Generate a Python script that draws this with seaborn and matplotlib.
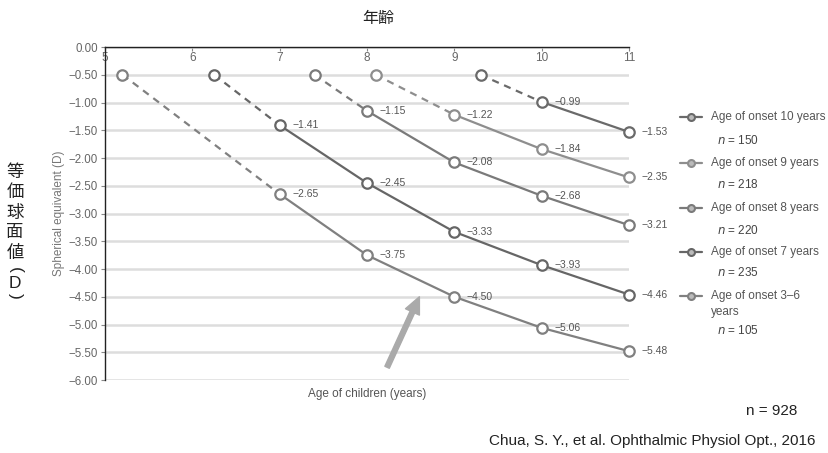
import matplotlib.pyplot as plt
import pandas as pd
import seaborn as sns
from matplotlib.lines import Line2D

# ── data ──────────────────────────────────────
ONSET_LABELS = [
    "Age of onset 10 years",
    "Age of onset 9 years",
    "Age of onset 8 years",
    "Age of onset 7 years",
    "Age of onset 3–6\nyears",
]
N_LABELS = ["150", "218", "220", "235", "105"]

# dashed lead-in: starting point (age, SE) before first follow-up visit
START_AGE = [9.3, 8.1, 7.4, 6.25, 5.2]
START_SE = [-0.50, -0.50, -0.50, -0.50, -0.50]

AGES_10 = [10, 11]
SE_10 = [-0.99, -1.53]
AGES_9 = [9, 10, 11]
SE_9 = [-1.22, -1.84, -2.35]
AGES_8 = [8, 9, 10, 11]
SE_8 = [-1.15, -2.08, -2.68, -3.21]
AGES_7 = [7, 8, 9, 10, 11]
SE_7 = [-1.41, -2.45, -3.33, -3.93, -4.46]
AGES_36 = [7, 8, 9, 10, 11]
SE_36 = [-2.65, -3.75, -4.50, -5.06, -5.48]

SERIES_AGES = [AGES_10, AGES_9, AGES_8, AGES_7, AGES_36]
SERIES_SE = [SE_10, SE_9, SE_8, SE_7, SE_36]

Y_TICKS = [0.0, -0.5, -1.0, -1.5, -2.0, -2.5, -3.0, -3.5, -4.0, -4.5, -5.0, -5.5, -6.0]
X_TICKS = [5, 6, 7, 8, 9, 10, 11]

COLORS = ["#6a6a6a", "#8e8e8e", "#7a7a7a", "#666666", "#808080"]


def fmt(v):
    return f"{v:.2f}".replace("-", "\u2212")


sns.set_theme(style="white")
plt.rcParams["font.family"] = ["Liberation Sans", "Noto Sans CJK JP", "DejaVu Sans"]

fig = plt.figure(figsize=(8.29, 4.53), dpi=100)
ax = fig.add_axes([0.1267, 0.1611, 0.632, 0.7351])

for i, (ages, se) in enumerate(zip(SERIES_AGES, SERIES_SE)):
    c = COLORS[i]
    dashed = pd.DataFrame({"age": [START_AGE[i], ages[0]], "se": [START_SE[i], se[0]]})
    solid = pd.DataFrame({"age": ages, "se": se})
    sns.lineplot(data=dashed, x="age", y="se", ax=ax, color=c, lw=1.6,
                 linestyle=(0, (3.2, 2.6)), clip_on=False)
    sns.lineplot(data=solid, x="age", y="se", ax=ax, color=c, lw=1.6, clip_on=False)
    # open circle markers
    ax.plot([START_AGE[i]] + ages, [START_SE[i]] + se, ls="none", marker="o",
            ms=7.5, mfc="white", mec=c, mew=1.6, clip_on=False, zorder=4)
    for a, v in zip(ages, se):
        ax.annotate(fmt(v), (a, v), xytext=(9, 0), textcoords="offset points",
                    va="center", ha="left", fontsize=7.5, color="#555555")

ax.set_xlim(5, 11)
ax.set_ylim(-6, 0)
ax.set_yticks(Y_TICKS)
ax.set_yticklabels([fmt(v) for v in Y_TICKS], fontsize=8.3, color="#666666")
ax.set_xticks(X_TICKS)
ax.set_xticklabels([str(v) for v in X_TICKS], fontsize=8.5, color="#666666")
ax.xaxis.set_ticks_position("top")
ax.tick_params(axis="x", direction="in", length=3, width=0.8, color="#888888", pad=-12)
ax.tick_params(axis="y", direction="out", length=3, width=0.8, color="#888888", pad=2, left=True)
ax.yaxis.grid(True, color="#dddddd", lw=1.8)
ax.set_axisbelow(True)
for s in ["right", "bottom"]:
    ax.spines[s].set_visible(False)
for s in ["top", "left"]:
    ax.spines[s].set_color("#222222")
    ax.spines[s].set_linewidth(1.0)

ax.xaxis.set_label_position("bottom")
ax.set_xlabel("Age of children (years)", fontsize=8.5, color="#555555", labelpad=6)
ax.set_ylabel("Spherical equivalent (D)", fontsize=8.5, color="#777777", labelpad=3)

# arrow
ax.annotate("", xy=(8.6, -4.5), xytext=(8.23, -5.77),
            arrowprops=dict(facecolor="#aaaaaa", edgecolor="#aaaaaa",
                            width=3.5, headwidth=11, headlength=12))

# legend drawn by hand
leg_rows = [(117, 140), (163, 184), (208, 230), (252, 272), (296, 331)]
for i, (ty, ny) in enumerate(leg_rows):
    yf = 1 - ty / 453
    fig.add_artist(Line2D([680 / 829, 702 / 829], [yf, yf], color=COLORS[i], lw=1.6))
    fig.add_artist(Line2D([691 / 829], [yf], ls="none", marker="o", ms=5,
                          mfc="#bbbbbb", mec=COLORS[i], mew=1.5))
    lines = ONSET_LABELS[i].split("\n")
    fig.text(711 / 829, yf, lines[0], fontsize=8.5, color="#555555", va="center")
    if len(lines) > 1:
        fig.text(711 / 829, 1 - 312 / 453, lines[1], fontsize=8.5, color="#555555", va="center")
    fig.text(717 / 829, 1 - ny / 453, f"$\\it{{n}}$ = {N_LABELS[i]}", fontsize=8.5,
             color="#444444", va="center")

# Japanese overlay texts (vertical writing)
fig.text(378 / 829, 1 - 18 / 453, "年齢", fontsize=11.5, ha="center", va="center", color="#222222")
for ch, yy in zip(["等", "価", "球", "面", "値"], [172, 192, 213, 233, 253]):
    fig.text(15 / 829, 1 - yy / 453, ch, fontsize=12.5, ha="center", va="center", color="#222222")
for ch, yy, rot in zip(["(", "D", ")"], [270, 283, 296], [-90, 0, -90]):
    fig.text(15 / 829, 1 - yy / 453, ch, fontsize=12.5, ha="center", va="center",
             rotation=rot, color="#222222")

fig.text(797 / 829, 1 - 411 / 453, "n = 928", fontsize=11, ha="right", va="center", color="#222222")
fig.text(816 / 829, 1 - 441 / 453, "Chua, S. Y., et al. Ophthalmic Physiol Opt., 2016",
         fontsize=11, ha="right", va="center", color="#222222")

fig.savefig("out.png", dpi=100)
